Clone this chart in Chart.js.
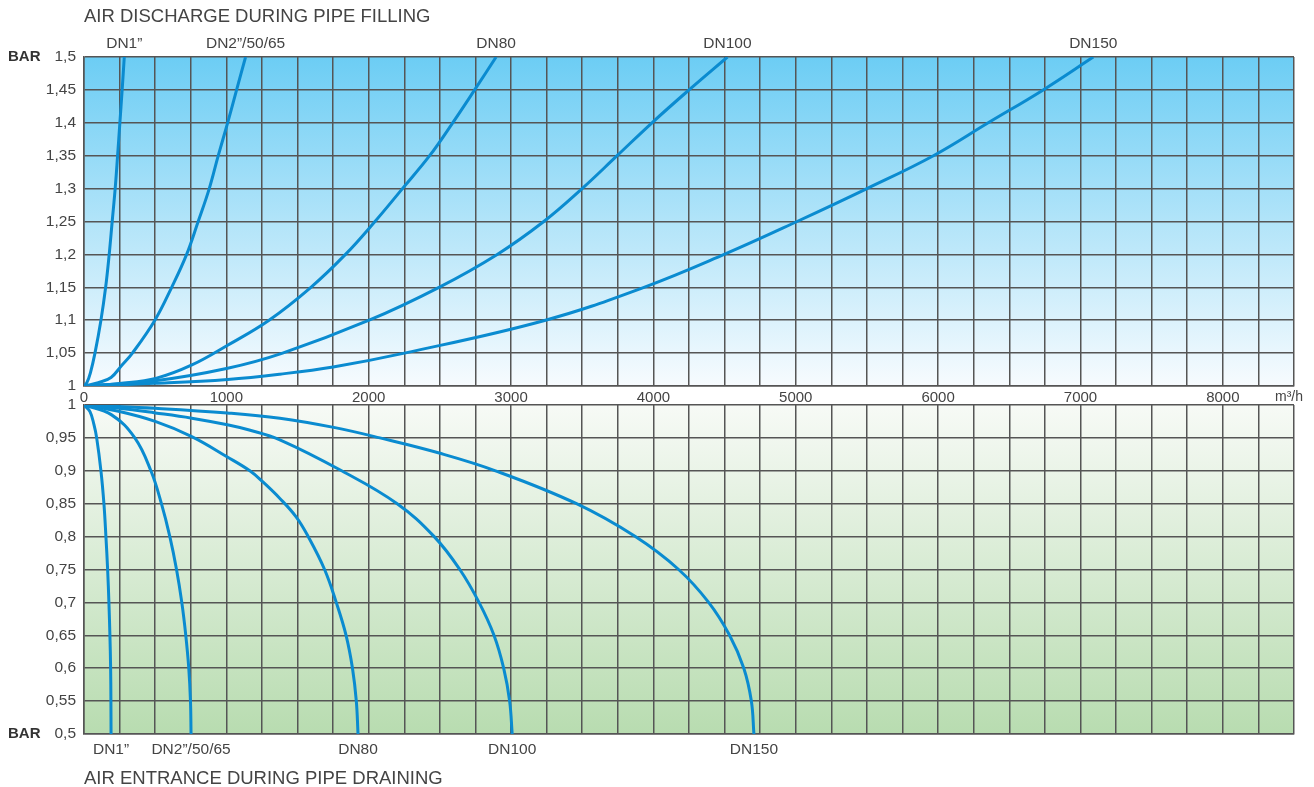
<!DOCTYPE html>
<html>
<head>
<meta charset="utf-8">
<script src="https://cdn.jsdelivr.net/npm/chart.js@4.4.1/dist/chart.umd.min.js"></script>
<style>
  html, body { margin: 0; padding: 0; background: #fff; }
  #wrap { position: relative; width: 1314px; height: 787px; overflow: hidden; }
  .box { position: absolute; left: 0; width: 1314px; }
</style>
</head>
<body>
<div id="wrap">
  <div class="box" style="top:0;height:420px"><canvas id="fill" width="1314" height="420"></canvas></div>
  <div class="box" style="top:390px;height:397px"><canvas id="drain" width="1314" height="397"></canvas></div>
</div>
<script>
// noms des diamètres
const sizes = ['DN1\u201D', 'DN2\u201D/50/65', 'DN80', 'DN100', 'DN150'];

// remplissage : [débit m3/h, pression bar]
const fillDN1 = [[0,1],[20,1.005],[45,1.02],[77,1.05],[119,1.1],[152,1.15],[177,1.2],[198,1.25],[219,1.3],[236,1.35],[252,1.4],[268,1.45],[283,1.5]];
const fillDN2 = [[0,1],[100,1.005],[190,1.013],[260,1.03],[340,1.05],[498,1.1],[616,1.15],[721,1.2],[802,1.25],[880,1.3],[943,1.35],[1009,1.4],[1072,1.45],[1135,1.5]];
const fillDN80 = [[0,1],[250,1.004],[510,1.012],[758,1.032],[1009,1.062],[1300,1.1],[1594,1.15],[1837,1.2],[2044,1.25],[2237,1.3],[2428,1.35],[2590,1.4],[2744,1.45],[2895,1.5]];
const fillDN100 = [[0,1],[500,1.008],[1009,1.027],[1395,1.05],[2003,1.1],[2494,1.15],[2903,1.2],[3230,1.25],[3499,1.3],[3745,1.35],[3990,1.4],[4250,1.45],[4520,1.5]];
const fillDN150 = [[0,1],[500,1.004],[1009,1.01],[1376,1.018],[1750,1.029],[2251,1.05],[3242,1.1],[3934,1.15],[4497,1.2],[5009,1.25],[5500,1.3],[5967,1.35],[6352,1.4],[6738,1.45],[7090,1.5]];

// vidange : [débit m3/h, pression bar]
const drainDN1 = [[0,1],[42,0.99],[70,0.97],[89,0.95],[119,0.9],[140,0.85],[154,0.8],[166,0.75],[175,0.7],[182,0.65],[187,0.6],[189,0.55],[190,0.5]];
const drainDN2 = [[0,1],[194,0.985],[357,0.95],[470,0.9],[544,0.85],[603,0.8],[650,0.75],[687,0.7],[715,0.65],[736,0.6],[748,0.55],[752,0.5]];
const drainDN80 = [[0,1],[250,0.99],[500,0.975],[757,0.952],[1007,0.921],[1165,0.9],[1252,0.884],[1376,0.858],[1490,0.83],[1575,0.8],[1690,0.75],[1772,0.7],[1841,0.65],[1886,0.6],[1913,0.55],[1925,0.5]];
const drainDN100 = [[0,1],[250,0.995],[500,0.988],[757,0.98],[1007,0.97],[1161,0.962],[1376,0.947],[1810,0.9],[2200,0.85],[2460,0.8],[2640,0.75],[2775,0.7],[2880,0.65],[2948,0.6],[2990,0.55],[3008,0.5]];
const drainDN150 = [[0,1],[500,0.995],[1007,0.988],[1376,0.98],[1754,0.966],[2079,0.95],[2495,0.927],[2891,0.9],[3460,0.85],[3873,0.8],[4177,0.75],[4388,0.7],[4535,0.65],[4635,0.6],[4688,0.55],[4706,0.5]];

const xMax = 8500;
const xLabelEvery = 1000;

const FONT = '"Liberation Sans", Arial, sans-serif';
const TXT = '#444';
const LINE = '#0a8bd0';
const GRID = '#555';

function toPts(arr) {
    return arr.map(p => ({ x: p[0], y: p[1] }));
}
function mkSets(list) {
    return list.map((arr, i) => ({
        label: sizes[i],
        data: toPts(arr),
        borderColor: LINE,
        borderWidth: 3,
        pointRadius: 0,
        fill: false,
        tension: 0.4
    }));
}
function fmtBar(v) {
    return String(Math.round(v * 100) / 100).replace('.', ',');
}

// fond dégradé de la zone de tracé
const bgPlugin = {
    id: 'bg',
    beforeDraw(chart, args, opts) {
        const a = chart.chartArea, ctx = chart.ctx;
        const g = ctx.createLinearGradient(0, a.top, 0, a.bottom);
        g.addColorStop(0, opts.top);
        g.addColorStop(1, opts.bottom);
        ctx.save();
        ctx.fillStyle = g;
        ctx.fillRect(a.left, a.top, a.right - a.left, a.bottom - a.top);
        ctx.restore();
    }
};

// textes : titres, noms DN, BAR, unité
const textPlugin = {
    id: 'texts',
    afterDraw(chart, args, opts) {
        const ctx = chart.ctx, a = chart.chartArea;
        ctx.save();
        ctx.fillStyle = TXT;
        ctx.textBaseline = 'middle';
        // noms DN au bout des courbes
        ctx.font = '15.5px ' + FONT;
        ctx.textAlign = 'center';
        chart.data.datasets.forEach((ds, i) => {
            const pts = chart.getDatasetMeta(i).data;
            const last = pts[pts.length - 1];
            ctx.fillText(ds.label, last.x, opts.labelY);
        });
        // titre
        ctx.textAlign = 'left';
        ctx.font = '18.5px ' + FONT;
        ctx.fillText(opts.title, a.left, opts.titleY);
        // BAR
        ctx.font = 'bold 15px ' + FONT;
        ctx.fillStyle = '#333';
        ctx.fillText('BAR', 8, opts.barAtTop ? a.top : a.bottom);
        // unité
        if (opts.unit) {
            ctx.fillStyle = TXT;
            ctx.font = '14px ' + FONT;
            ctx.fillText(opts.unit, 1275, a.bottom + 11);
        }
        ctx.restore();
    }
};

function xScale(showTicks, h) {
    return {
        type: 'linear',
        min: 0,
        max: xMax,
        afterFit: s => { s.height = h; },
        grid: { color: GRID, lineWidth: 1.5, drawTicks: false },
        border: { color: GRID, width: 1.5 },
        ticks: {
            display: showTicks,
            stepSize: 250,
            autoSkip: false,
            maxRotation: 0,
            padding: 3,
            color: TXT,
            font: { family: FONT, size: 15 },
            callback: v => (v % xLabelEvery === 0 && v < xMax) ? String(v) : ''
        }
    };
}
function yScale(min, max) {
    return {
        min: min,
        max: max,
        afterFit: s => { s.width = 84; s.paddingTop = 0; s.paddingBottom = 0; },
        grid: { color: GRID, lineWidth: 1.5, drawTicks: false },
        border: { color: GRID, width: 1.5 },
        ticks: {
            stepSize: 0.05,
            autoSkip: false,
            padding: 8,
            color: TXT,
            font: { family: FONT, size: 15.5 },
            callback: v => fmtBar(v)
        }
    };
}

const common = {
    responsive: false,
    animation: false,
    devicePixelRatio: 1,
    plugins: { legend: { display: false }, tooltip: { enabled: false } }
};

new Chart(document.getElementById('fill'), {
    type: 'line',
    data: { datasets: mkSets([fillDN1, fillDN2, fillDN80, fillDN100, fillDN150]) },
    options: Object.assign({}, common, {
        layout: { padding: { top: 57, right: 20, left: 0, bottom: 0 } },
        scales: { x: xScale(true, 34), y: yScale(1, 1.5) },
        plugins: Object.assign({}, common.plugins, {
            bg: { top: '#6ccdf4', bottom: '#f7fbfe' },
            texts: { title: 'AIR DISCHARGE DURING PIPE FILLING', titleY: 17, labelY: 44, barAtTop: true, unit: 'm\u00B3/h' }
        })
    }),
    plugins: [bgPlugin, textPlugin]
});

new Chart(document.getElementById('drain'), {
    type: 'line',
    data: { datasets: mkSets([drainDN1, drainDN2, drainDN80, drainDN100, drainDN150]) },
    options: Object.assign({}, common, {
        layout: { padding: { top: 15, right: 20, left: 0, bottom: 0 } },
        scales: { x: xScale(false, 53), y: yScale(0.5, 1) },
        plugins: Object.assign({}, common.plugins, {
            bg: { top: '#f7faf6', bottom: '#b8dcb0' },
            texts: { title: 'AIR ENTRANCE DURING PIPE DRAINING', titleY: 389, labelY: 360, barAtTop: false }
        })
    }),
    plugins: [bgPlugin, textPlugin]
});
</script>
</body>
</html>
